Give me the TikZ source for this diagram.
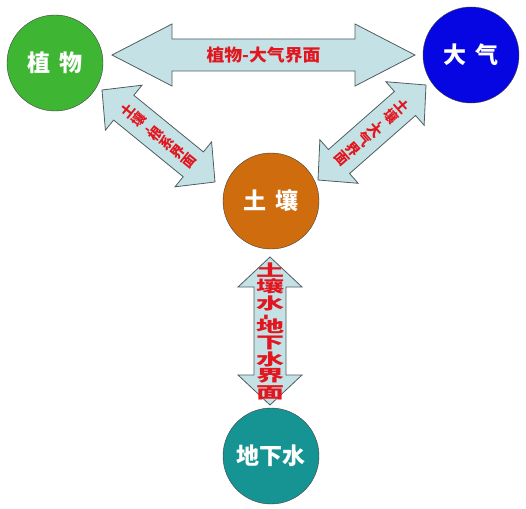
\documentclass[tikz,border=0pt]{standalone}
\usepackage{fontspec}
\setmainfont{Noto Sans CJK SC}
\usepackage{tikz, xcolor}
\usetikzlibrary{calc}

\definecolor{plantgreen}{RGB}{62,182,52}
\definecolor{airblue}{RGB}{6,6,226}
\definecolor{soilorange}{RGB}{206,108,14}
\definecolor{waterteal}{RGB}{22,148,148}
\definecolor{bandfill}{RGB}{196,226,230}
\definecolor{bandline}{RGB}{80,92,94}
\definecolor{tagred}{RGB}{226,22,30}

\begin{document}
\begin{tikzpicture}[x=1pt, y=-1pt,
    ball/.style={circle, draw=black!75, minimum size=96pt, inner sep=0pt, text=white,
        font=\bfseries\fontsize{23}{23}\selectfont},
    band/.style={draw=bandline, fill=bandfill, line width=0.8pt, line join=miter},
    tag/.style={text=tagred, inner sep=0pt, align=center}]
    \useasboundingbox (0,0) rectangle (526,508);
    % Spheres
    \node[ball, fill=plantgreen] (plant) at (55,63) {植\hspace{10pt}物};
    \node[ball, fill=airblue] (air) at (471,55) {大\hspace{10pt}气};
    \node[ball, fill=soilorange] (soil) at (271,201) {土\hspace{10pt}壤};
    \node[ball, fill=waterteal] (ground) at (271,456) {地下水};
    % Arrow tips
    \coordinate (tA) at (112,55);
    \coordinate (tB) at (415,55);
    \coordinate (lA) at (102,90);
    \coordinate (lB) at (215,182);
    \coordinate (rA) at (426,85);
    \coordinate (rB) at (318,180);
    \coordinate (vA) at (270,257);
    \coordinate (vB) at (270,405);
    % Double arrows (tip/tip/head length/head half width)
    \foreach \a/\b/\h/\w in {tA/tB/60/31, lA/lB/28/29, rA/rB/28/29, vA/vB/30/32}
    {
        \coordinate (ha) at ($(\a)!\h pt!(\b)$);
        \coordinate (hb) at ($(\b)!\h pt!(\a)$);
        \draw[band] (\a) -- ($(ha)!\w pt!90:(\b)$) -- ($(ha)!16pt!90:(\b)$)
            -- ($(hb)!16pt!-90:(\a)$) -- ($(hb)!\w pt!-90:(\a)$) -- (\b)
            -- ($(hb)!\w pt!90:(\a)$) -- ($(hb)!16pt!90:(\a)$)
            -- ($(ha)!16pt!-90:(\b)$) -- ($(ha)!\w pt!-90:(\b)$) -- cycle;
    }
    % Interface labels
    \node[tag, xscale=1.05, font=\bfseries\fontsize{17}{17}\selectfont]
        (ptag) at ($(tA)!0.5!(tB)$) {植物-大气界面};
    \node[tag, rotate=50.8, font=\bfseries\fontsize{14}{14.5}\selectfont]
        (rtag) at ($(lA)!0.5!(lB)$) {土\\壤\\[-4pt]\rotatebox{90}{-}\\[-4pt]根\\系\\界\\面};
    \node[tag, rotate=-48.7, font=\bfseries\fontsize{14}{14.5}\selectfont]
        (atag) at ($(rA)!0.5!(rB)$) {土\\壤\\[-4pt]\rotatebox{90}{-}\\[-4pt]大\\气\\界\\面};
    \node[tag, xscale=1.75, font=\bfseries\fontsize{16}{16.5}\selectfont]
        (gtag) at ($(vA)!0.5!(vB)$) {土\\壤\\水\\[-5pt]\rotatebox{90}{-}\\[-5pt]地\\下\\水\\界\\面};
\end{tikzpicture}
\end{document}
